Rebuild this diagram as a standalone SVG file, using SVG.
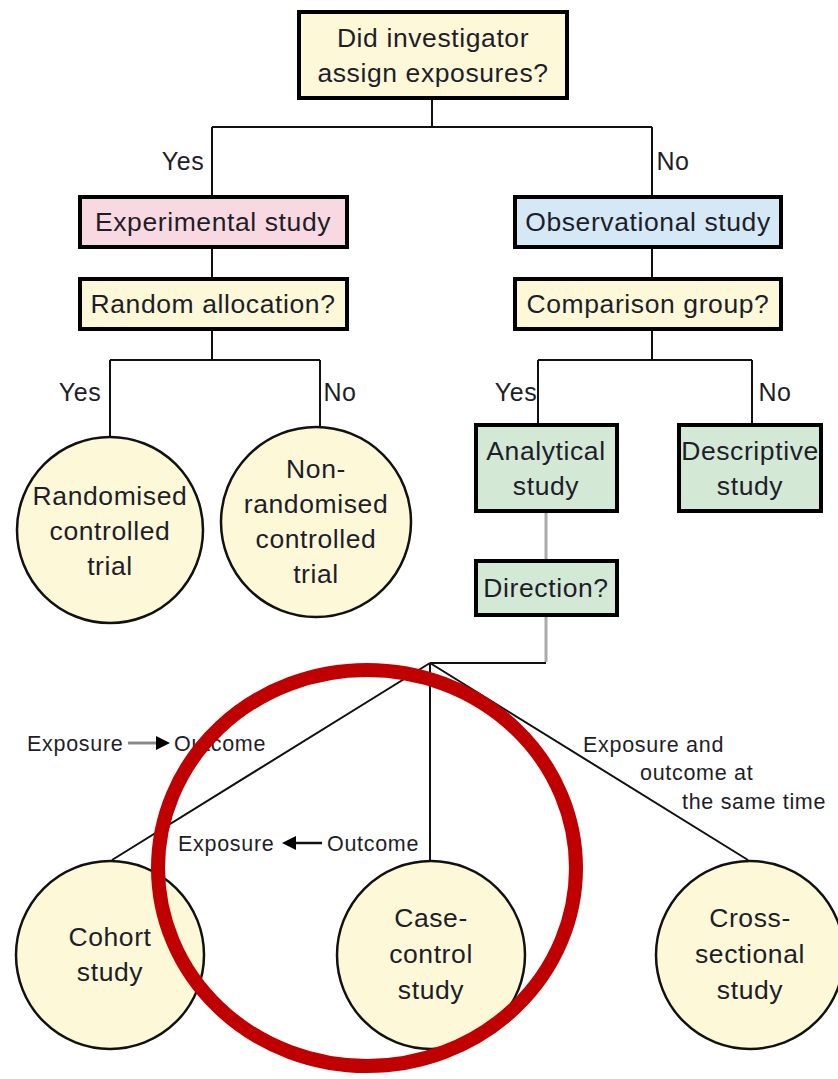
<svg xmlns="http://www.w3.org/2000/svg" width="838" height="1079" viewBox="0 0 838 1079">
<style>
.box{stroke:#000;stroke-width:4}
.yel{fill:#fdf9d8}
.pink{fill:#f9d9e1}
.blue{fill:#d5e8f6}
.green{fill:#d4e8d6}
.circ{fill:#fdf9d8;stroke:#111;stroke-width:2.5}
.t{font-family:"Liberation Sans",Arial,sans-serif;font-size:26.5px;letter-spacing:0.6px;fill:#1e1e2a;text-anchor:middle}
.lab{font-family:"Liberation Sans",Arial,sans-serif;font-size:25px;letter-spacing:0.5px;fill:#1e1e2a;text-anchor:middle}
.s{font-family:"Liberation Sans",Arial,sans-serif;font-size:21.5px;letter-spacing:0.7px;fill:#1e1e2a}
.c{fill:none;stroke:#111;stroke-width:2}
.g{fill:none;stroke:#aaa;stroke-width:3}
</style>
<g id="connectors">
<path class="c" d="M432 98V127M212 127H652M212 127V197M652 127V197"/>
<path class="c" d="M212 247V278M212 329V360M110 360H320M110 360V437M320 360V427"/>
<path class="c" d="M652 247V278M652 329V360M538 360H752M538 360V425M752 360V425"/>
<path class="g" d="M546 511V560M546 615V662"/>
<path class="c" d="M546 663H430M430 663L112 860M430 663V860M430 663L748 860"/>
</g>
<g id="labels">
<text class="lab" x="183" y="170">Yes</text>
<text class="lab" x="673" y="170">No</text>
<text class="lab" x="80" y="401">Yes</text>
<text class="lab" x="340" y="401">No</text>
<text class="lab" x="516" y="401">Yes</text>
<text class="lab" x="775" y="401">No</text>
<text class="s" x="27" y="751">Exposure</text>
<path d="M128 743H158" stroke="#888" stroke-width="3"/>
<path d="M156 736L170 743L156 750Z" fill="#000"/>
<text class="s" x="174" y="751">Outcome</text>
<text class="s" x="178" y="851">Exposure</text>
<path d="M294 843H322" stroke="#111" stroke-width="2.5"/>
<path d="M296 836L282 843L296 850Z" fill="#000"/>
<text class="s" x="327" y="851">Outcome</text>
<text class="s" x="583" y="752">Exposure and</text>
<text class="s" x="640" y="780">outcome at</text>
<text class="s" x="682" y="809">the same time</text>
</g>
<g id="n-top"><rect class="box yel" x="299" y="12" width="268" height="86"/><text class="t" x="433" y="47">Did investigator</text><text class="t" x="433" y="82">assign exposures?</text></g>
<g id="n-exp"><rect class="box pink" x="80" y="197" width="267" height="50"/><text class="t" x="213" y="231">Experimental study</text></g>
<g id="n-rand"><rect class="box yel" x="80" y="279" width="267" height="50"/><text class="t" x="213" y="313">Random allocation?</text></g>
<g id="n-obs"><rect class="box blue" x="515" y="197" width="266" height="50"/><text class="t" x="648" y="231">Observational study</text></g>
<g id="n-comp"><rect class="box yel" x="515" y="279" width="266" height="50"/><text class="t" x="648" y="313">Comparison group?</text></g>
<g id="n-anal"><rect class="box green" x="476" y="425" width="141" height="86"/><text class="t" x="546" y="460">Analytical</text><text class="t" x="546" y="495">study</text></g>
<g id="n-desc"><rect class="box green" x="679" y="425" width="142" height="86"/><text class="t" x="750" y="460" letter-spacing="0">Descriptive</text><text class="t" x="750" y="495">study</text></g>
<g id="n-dir"><rect class="box green" x="476" y="561" width="141" height="54"/><text class="t" x="546" y="597">Direction?</text></g>
<g id="n-rct"><circle class="circ" cx="110" cy="530" r="93"/><text class="t" x="110" y="505">Randomised</text><text class="t" x="110" y="540">controlled</text><text class="t" x="110" y="575">trial</text></g>
<g id="n-nrct"><circle class="circ" cx="316" cy="522" r="95"/><text class="t" x="316" y="478">Non-</text><text class="t" x="316" y="513">randomised</text><text class="t" x="316" y="548">controlled</text><text class="t" x="316" y="583">trial</text></g>
<g id="n-cohort"><circle class="circ" cx="110" cy="955" r="94"/><text class="t" x="110" y="946">Cohort</text><text class="t" x="110" y="981">study</text></g>
<g id="n-case"><circle class="circ" cx="431" cy="955" r="94"/><text class="t" x="431" y="927">Case-</text><text class="t" x="431" y="963">control</text><text class="t" x="431" y="999">study</text></g>
<g id="n-cross"><circle class="circ" cx="750" cy="955" r="94"/><text class="t" x="750" y="927">Cross-</text><text class="t" x="750" y="963">sectional</text><text class="t" x="750" y="999">study</text></g>
<ellipse id="highlight" cx="367" cy="868" rx="209" ry="198" fill="none" stroke="#c00000" stroke-width="14"/>
</svg>
